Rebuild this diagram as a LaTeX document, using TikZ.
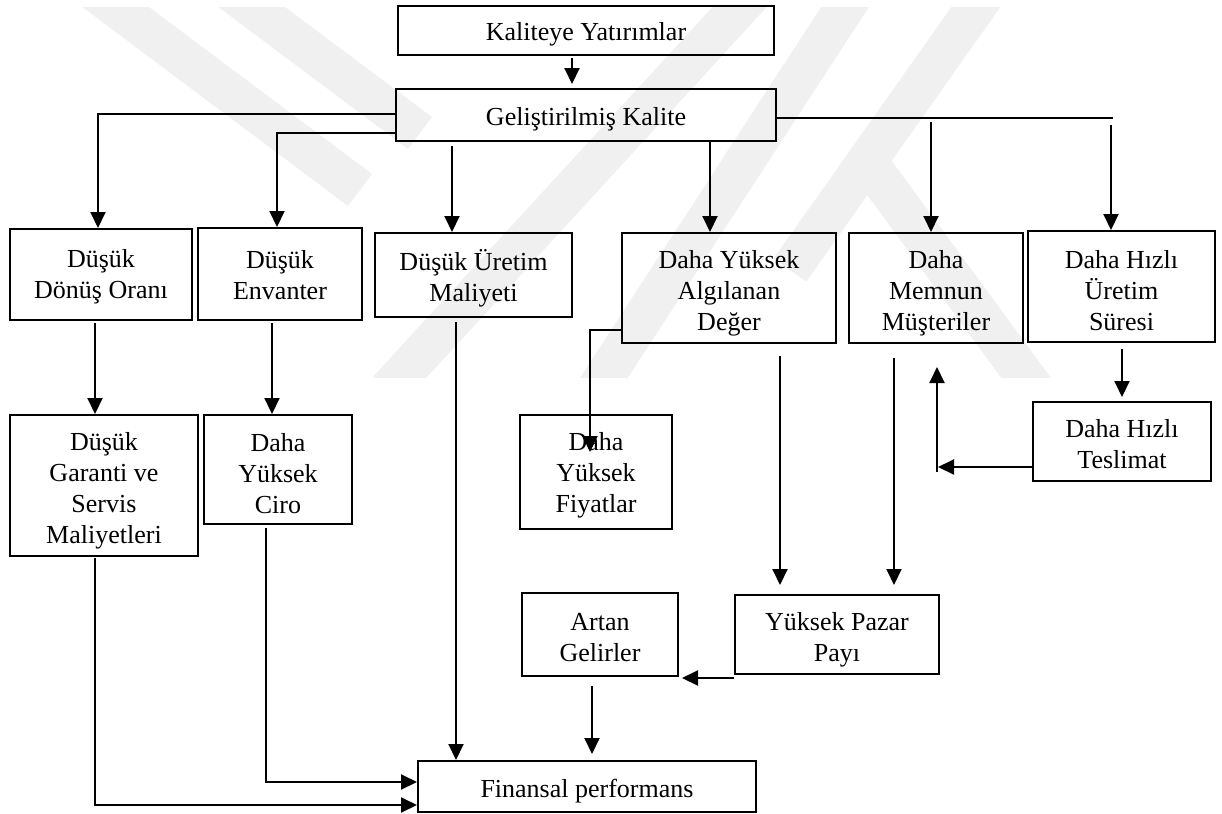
\documentclass[tikz,border=0pt]{standalone}
\usepackage{fontspec}
\setmainfont{Liberation Serif}
\usetikzlibrary{arrows.meta}
\begin{document}
\begin{tikzpicture}[x=0.5pt,y=-0.5pt,
  box/.style={draw=black,line width=1pt,inner sep=0pt},
  txt/.style={inner sep=0pt,align=center,font=\fontsize{13}{15.5}\selectfont},
  arr/.style={line width=1pt,-{Triangle[length=8pt,width=7.5pt]}},
  link/.style={line width=1pt},
  wm/.style={line width=20pt,color=black!6,line cap=butt}]
\useasboundingbox (0,0) rectangle (1222,814);

% faint background logo
\begin{scope}
  \clip (0,7) rectangle (1222,377);
  \draw[wm] (89,-13) -- (360,190);
  \draw[wm] (225,-13) -- (420,133);
  \draw[wm] (758,-13) -- (388,390);
  \draw[wm] (858,-13) -- (596,390);
  \draw[wm] (990,-13) -- (790,270);
  \draw[wm] (870,165) -- (1035,390);
\end{scope}

% boxes
\node[box,minimum width=188pt,minimum height=24.5pt] (kal) at (586,30.5) {};
\node[box,minimum width=190pt,minimum height=26pt] (gel) at (586,115) {};
\node[box,minimum width=91pt,minimum height=45.5pt] (donus) at (101,274.5) {};
\node[box,minimum width=82pt,minimum height=46pt] (env) at (280,274) {};
\node[box,minimum width=98.5pt,minimum height=42pt] (uret) at (473.5,275) {};
\node[box,minimum width=107pt,minimum height=55pt] (deger) at (729,288) {};
\node[box,minimum width=87pt,minimum height=55pt] (mem) at (936,288) {};
\node[box,minimum width=93.5pt,minimum height=55.5pt] (sure) at (1121.5,286.5) {};
\node[box,minimum width=94pt,minimum height=70.5pt] (garanti) at (104,485.5) {};
\node[box,minimum width=74pt,minimum height=54.5pt] (ciro) at (278,469.5) {};
\node[box,minimum width=76pt,minimum height=57pt] (fiyat) at (596,472) {};
\node[box,minimum width=89pt,minimum height=39.5pt] (teslim) at (1122,441.5) {};
\node[box,minimum width=78pt,minimum height=41.5pt] (artan) at (600,634.5) {};
\node[box,minimum width=102pt,minimum height=39.5pt] (pazar) at (837,634.5) {};
\node[box,minimum width=169pt,minimum height=25.5pt] (fin) at (587,786.5) {};

% box labels
\node[txt] (kalT) at ([yshift=-2pt]kal.center) {Kaliteye Yatırımlar};
\node[txt] (gelT) at ([yshift=-2pt]gel.center) {Geliştirilmiş Kalite};
\node[txt] (donusT) at ([yshift=-1pt]donus.center) {Düşük\\Dönüş Oranı};
\node[txt] (envT) at ([yshift=-0.5pt]env.center) {Düşük\\Envanter};
\node[txt] (uretT) at ([yshift=-1.5pt]uret.center) {Düşük Üretim\\Maliyeti};
\node[txt] (degerT) at ([yshift=-2.5pt]deger.center) {Daha Yüksek\\Algılanan\\Değer};
\node[txt] (memT) at ([yshift=-2.5pt]mem.center) {Daha\\Memnun\\Müşteriler};
\node[txt] (sureT) at ([yshift=-2pt]sure.center) {Daha Hızlı\\Üretim\\Süresi};
\node[txt] (garantiT) at ([yshift=-2.5pt]garanti.center) {Düşük\\Garanti ve\\Servis\\Maliyetleri};
\node[txt] (ciroT) at ([yshift=-2pt]ciro.center) {Daha\\Yüksek\\Ciro};
\node[txt] (fiyatT) at ([yshift=-1.5pt]fiyat.center) {Daha\\Yüksek\\Fiyatlar};
\node[txt] (teslimT) at ([yshift=-1.5pt]teslim.center) {Daha Hızlı\\Teslimat};
\node[txt] (artanT) at ([yshift=-1.5pt]artan.center) {Artan\\Gelirler};
\node[txt] (pazarT) at ([yshift=-2.5pt]pazar.center) {Yüksek Pazar\\Payı};
\node[txt] (finT) at ([yshift=-2.5pt]fin.center) {Finansal performans};

% connector bends and free ends
\coordinate (k1) at (572,58);
\coordinate (j1) at (98,114);
\coordinate (j2) at (277,133);
\coordinate (j3) at (452,146);
\coordinate (j4) at (1113,118);
\coordinate (j5) at (710,141);
\coordinate (j6) at (931,122);
\coordinate (j7) at (1111,125);
\coordinate (j8) at (95,323);
\coordinate (j9) at (272,323);
\coordinate (j10) at (456,322);
\coordinate (j11) at (590,330);
\coordinate (j12) at (590,452);
\coordinate (j13) at (780,356);
\coordinate (j14) at (780,585);
\coordinate (j15) at (894,358);
\coordinate (j16) at (894,585);
\coordinate (j17) at (1122,349);
\coordinate (j18) at (938,467);
\coordinate (j19) at (937,472);
\coordinate (j20) at (937,367);
\coordinate (j21) at (734,678);
\coordinate (j22) at (682,678);
\coordinate (j23) at (592,686);
\coordinate (j24) at (266,528);
\coordinate (j25) at (266,782);
\coordinate (j26) at (95,558);
\coordinate (j27) at (95,805);

% connectors
\draw[arr,shorten >=2pt] (k1) -- (k1 |- gel.north);
\draw[arr] (gel.west |- j1) -- (j1) -- (j1 |- donus.north);
\draw[arr] (gel.west |- j2) -- (j2) -- (j2 |- env.north);
\draw[arr] (j3) -- (j3 |- uret.north);
\draw[link] (gel.east |- j4) -- (j4);
\draw[arr] (gel.south -| j5) -- (j5 |- deger.north);
\draw[arr] (j6) -- (j6 |- mem.north);
\draw[arr] (j7) -- (j7 |- sure.north);
\draw[arr] (j8) -- (j8 |- garanti.north);
\draw[arr] (j9) -- (j9 |- ciro.north);
\draw[arr] (j10) -- (j10 |- fin.north);
\draw[arr] (deger.west |- j11) -- (j11) -- (j12);
\draw[arr] (j13) -- (j14);
\draw[arr] (j15) -- (j16);
\draw[arr,shorten >=2pt] (j17) -- (j17 |- teslim.north);
\draw[arr] (teslim.west |- j18) -- (j18);
\draw[arr] (j19) -- (j20);
\draw[arr] (j21) -- (j22);
\draw[arr,shorten >=3pt] (j23) -- (j23 |- fin.north);
\draw[arr] (j24) -- (j25) -- (fin.west |- j25);
\draw[arr] (j26) -- (j27) -- (fin.west |- j27);
\end{tikzpicture}
\end{document}
